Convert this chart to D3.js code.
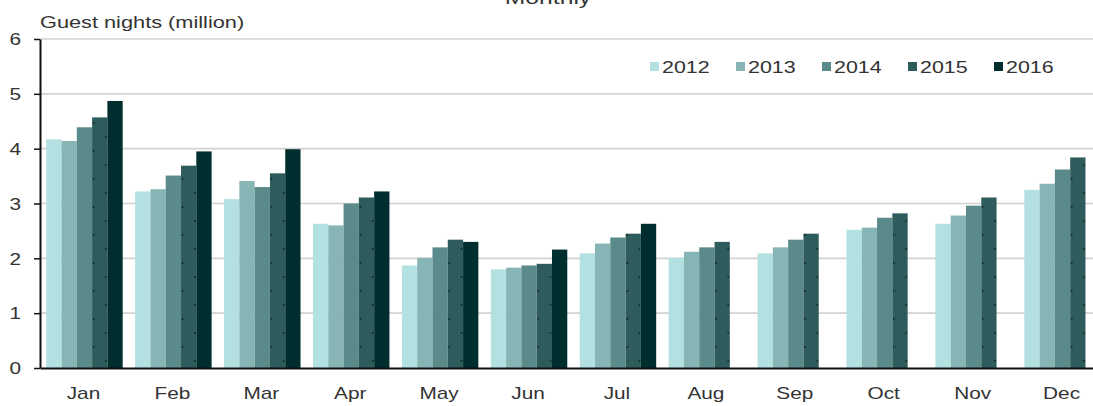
<!DOCTYPE html>
<html>
<head>
<meta charset="utf-8">
<script src="https://cdn.jsdelivr.net/npm/d3@7"></script>
<style>
  body { margin: 0; background: #fff; }
  svg { display: block; font-family: "Liberation Sans", Arial, sans-serif; }
</style>
</head>
<body>
<svg id="canvas"></svg>
<script>
// data
const months = ['Jan', 'Feb', 'Mar', 'Apr', 'May', 'Jun', 'Jul', 'Aug', 'Sep', 'Oct', 'Nov', 'Dec']
const years = ['2012', '2013', '2014', '2015', '2016']
const v2012 = [4.17, 3.22, 3.08, 2.63, 1.87, 1.80, 2.09, 2.01, 2.09, 2.52, 2.63, 3.25]
const v2013 = [4.14, 3.26, 3.41, 2.60, 2.01, 1.83, 2.27, 2.12, 2.20, 2.56, 2.78, 3.36]
const v2014 = [4.39, 3.51, 3.30, 3.00, 2.20, 1.87, 2.38, 2.20, 2.34, 2.74, 2.96, 3.62]
const v2015 = [4.57, 3.69, 3.55, 3.11, 2.34, 1.90, 2.45, 2.30, 2.45, 2.82, 3.11, 3.84]
const v2016 = [4.87, 3.95, 3.99, 3.22, 2.30, 2.16, 2.63, null, null, null, null, null]
const yTicks = [0, 1, 2, 3, 4, 5, 6]
const colors = ['#b3e0e0', '#87b4b4', '#5b8a8a', '#2e5b5b', '#002e2e']

const series = [v2012, v2013, v2014, v2015, v2016]

const width = 1093, height = 406
const sx = 1.3   // text in the reference looks stretched sideways

const svg = d3.select('#canvas').attr('width', width).attr('height', height)

const x = d3.scaleBand().domain(months).range([40, 1107])
    .paddingInner(0.14).paddingOuter(0.07)
const xs = d3.scaleBand().domain(years).range([0, x.bandwidth()])
const y = d3.scaleLinear().domain([0, 6]).range([368, 39])

// dotted fill for 2015 like the original
const defs = svg.append('defs')
const pat = defs.append('pattern')
    .attr('id', 'dots2015')
    .attr('patternUnits', 'userSpaceOnUse')
    .attr('x', x(months[0]) + xs('2015'))
    .attr('y', y(0))
    .attr('width', x.step())
    .attr('height', 28)
pat.append('rect').attr('width', x.step()).attr('height', 28).attr('fill', colors[3])
pat.append('circle').attr('cx', 1.5).attr('cy', 7).attr('r', 0.9).attr('fill', '#0e2222')
pat.append('circle').attr('cx', xs.bandwidth() - 1.5).attr('cy', 21).attr('r', 0.9).attr('fill', '#0e2222')

// gridlines
svg.append('g')
    .selectAll('line')
    .data(yTicks.filter(d => d > 0))
    .join('line')
    .attr('x1', 40).attr('x2', width)
    .attr('y1', d => y(d)).attr('y2', d => y(d))
    .attr('stroke', '#d2d2d2')
    .attr('stroke-width', 1.6)

// bars
const groups = svg.append('g')
    .selectAll('g')
    .data(series)
    .join('g')
    .attr('fill', (d, i) => i === 3 ? 'url(#dots2015)' : colors[i])

groups.selectAll('rect')
    .data((d, i) => d.map((v, j) => ({ month: months[j], year: years[i], value: v })).filter(o => o.value != null))
    .join('rect')
    .attr('x', d => x(d.month) + xs(d.year))
    .attr('width', xs.bandwidth())
    .attr('y', d => y(d.value))
    .attr('height', d => y(0) - y(d.value))

// y axis
const yAxis = svg.append('g')
    .attr('transform', 'translate(40,0)')
    .call(d3.axisLeft(y).tickValues(yTicks).tickFormat(d3.format('d')).tickSize(6).tickSizeOuter(0))
yAxis.select('.domain').attr('stroke', '#111').attr('stroke-width', 2)
yAxis.selectAll('.tick line').attr('stroke', '#111').attr('stroke-width', 1.5)
yAxis.selectAll('.tick text')
    .attr('x', -19 / sx)
    .attr('dy', '0.36em')
    .attr('transform', `scale(${sx},1)`)
    .attr('font-size', 16)
    .attr('fill', '#333')

// x axis
const xAxis = svg.append('g')
    .attr('transform', `translate(0,${y(0)})`)
    .call(d3.axisBottom(x).tickSize(0).tickSizeOuter(0))
xAxis.select('.domain').attr('stroke', '#111').attr('stroke-width', 2)
xAxis.selectAll('.tick text')
    .attr('y', 31)
    .attr('dy', 0)
    .attr('transform', `scale(${sx},1)`)
    .attr('x', 0)
    .attr('font-size', 16)
    .attr('fill', '#333')
xAxis.selectAll('.tick').attr('transform', d => `translate(${x(d) + x.bandwidth() / 2 - 1},0)`)

// axis title and chart title
svg.append('text')
    .attr('transform', `translate(40,28) scale(1.36,1)`)
    .attr('font-size', 16)
    .attr('fill', '#333')
    .text('Guest nights (million)')

svg.append('text')
    .attr('transform', `translate(548,4) scale(${sx},1)`)
    .attr('text-anchor', 'middle')
    .attr('font-size', 19)
    .attr('fill', '#333')
    .text('Monthly')

// legend
const legend = svg.append('g')
    .selectAll('g')
    .data(years)
    .join('g')
    .attr('transform', (d, i) => `translate(${650 + i * 86},0)`)

legend.append('rect')
    .attr('x', 0).attr('y', 62)
    .attr('width', 9).attr('height', 9)
    .attr('fill', (d, i) => colors[i])

legend.append('text')
    .attr('transform', `translate(12,73) scale(${sx},1)`)
    .attr('font-size', 16.5)
    .attr('fill', '#333')
    .text(d => d)
</script>
</body>
</html>
